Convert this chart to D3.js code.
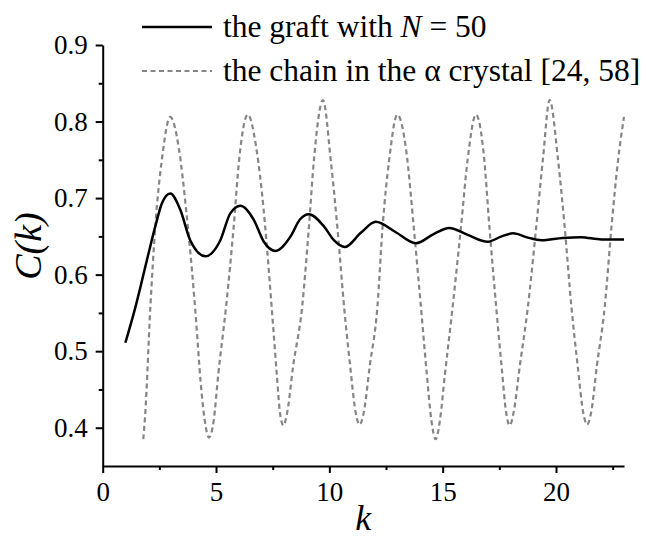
<!DOCTYPE html>
<html>
<head>
    <meta charset="utf-8">
    <title>C(k)</title>
    <script src="https://d3js.org/d3.v7.min.js"></script>
    <style>
        body { margin: 0; background: #fff; }
        svg text { font-family: "Liberation Serif", "Times New Roman", serif; fill: #000; }
    </style>
</head>
<body>
    <svg id="chart" width="646" height="538"></svg>
    <script>
        // the graft with N = 50
        var graftK = [1.00, 1.43, 2.00, 2.32, 2.61, 2.98, 3.42, 3.86, 4.53, 5.19, 5.63, 6.08, 6.66, 7.11, 7.62,
            8.29, 8.70, 9.10, 9.76, 10.20, 10.68, 11.40, 12.05, 12.90, 13.82, 14.60, 15.29, 16.10, 16.99,
            17.60, 18.10, 18.80, 19.35, 20.30, 21.10, 22.00, 23.00];
        var graftC = [0.511, 0.556, 0.625, 0.663, 0.693, 0.706, 0.685, 0.645, 0.624, 0.645, 0.680, 0.690, 0.672, 0.643, 0.631,
            0.650, 0.672, 0.679, 0.663, 0.645, 0.636, 0.655, 0.669, 0.656, 0.641, 0.653, 0.661, 0.652, 0.643,
            0.650, 0.654, 0.648, 0.645, 0.648, 0.649, 0.646, 0.646];

        // the chain in the alpha crystal
        var chainK = [1.79, 1.87, 2.10, 2.32, 2.61, 2.98, 3.36, 3.68, 3.94, 4.12, 4.32, 4.50, 4.69,
            4.90, 5.10, 5.45, 5.78, 6.02, 6.40, 6.78, 7.10, 7.33, 7.50, 7.68, 7.82, 7.97,
            8.14, 8.40, 8.80, 9.10, 9.32, 9.72, 10.06, 10.35, 10.65, 10.92, 11.16, 11.33,
            11.52, 11.78, 12.12, 12.35, 12.64, 13.00, 13.40, 13.72, 14.04, 14.30, 14.50, 14.69,
            14.88, 15.10, 15.44, 15.81, 16.10, 16.47, 16.82, 17.06, 17.36, 17.60, 17.80, 17.96,
            18.13, 18.40, 18.76, 19.13, 19.42, 19.72, 20.09, 20.38, 20.68, 20.96, 21.20, 21.37,
            21.55, 21.80, 22.15, 22.45, 22.74, 23.00];
        var chainC = [0.385, 0.415, 0.556, 0.663, 0.750, 0.806, 0.765, 0.685, 0.605, 0.540, 0.460, 0.410, 0.387,
            0.410, 0.470, 0.560, 0.663, 0.750, 0.809, 0.765, 0.685, 0.605, 0.540, 0.470, 0.420, 0.403,
            0.420, 0.480, 0.558, 0.663, 0.750, 0.828, 0.750, 0.663, 0.558, 0.480, 0.420, 0.404,
            0.420, 0.480, 0.558, 0.663, 0.750, 0.809, 0.760, 0.663, 0.558, 0.470, 0.410, 0.385,
            0.410, 0.470, 0.558, 0.663, 0.750, 0.809, 0.755, 0.663, 0.558, 0.480, 0.420, 0.403,
            0.420, 0.480, 0.558, 0.663, 0.750, 0.828, 0.750, 0.663, 0.558, 0.480, 0.420, 0.404,
            0.420, 0.480, 0.558, 0.663, 0.750, 0.806];

        var xTicks = [0, 5, 10, 15, 20];
        var xMinor = [2.5, 7.5, 12.5, 17.5, 22.5];
        var yTicks = [0.4, 0.5, 0.6, 0.7, 0.8, 0.9];
        var yMinor = [0.45, 0.55, 0.65, 0.75, 0.85];

        var serif = "Liberation Serif, Times New Roman, serif";
        var svg = d3.select("#chart");

        var x = d3.scaleLinear().domain([0, 23]).range([102.7, 624]);
        var y = d3.scaleLinear().domain([0.35, 0.9]).range([466, 45]);

        // axes
        var xAxis = d3.axisBottom(x).tickValues(xTicks).tickSize(7).tickSizeOuter(0).tickPadding(9)
            .tickFormat(d3.format("d"));
        var gx = svg.append("g").attr("transform", "translate(0," + y(0.35) + ")").call(xAxis);
        var gxm = svg.append("g").attr("transform", "translate(0," + y(0.35) + ")")
            .call(d3.axisBottom(x).tickValues(xMinor).tickSize(4).tickSizeOuter(0).tickFormat(""));

        var yAxis = d3.axisLeft(y).tickValues(yTicks).tickSize(7).tickSizeOuter(0).tickPadding(8)
            .tickFormat(d3.format(".1f"));
        var gy = svg.append("g").attr("transform", "translate(" + x(0) + ",0)").call(yAxis);
        var gym = svg.append("g").attr("transform", "translate(" + x(0) + ",0)")
            .call(d3.axisLeft(y).tickValues(yMinor).tickSize(4).tickSizeOuter(0).tickFormat(""));

        svg.selectAll("g").attr("font-family", serif);
        svg.selectAll(".domain, .tick line").attr("stroke", "#000").attr("stroke-width", 2);
        svg.selectAll(".tick text").attr("font-size", 27).style("font-family", serif);
        gxm.select(".domain").remove();
        gym.select(".domain").remove();

        // curves
        var line = d3.line()
            .x(function (d) { return x(d[0]); })
            .y(function (d) { return y(d[1]); })
            .curve(d3.curveMonotoneX);

        svg.append("path")
            .datum(d3.zip(chainK, chainC))
            .attr("fill", "none")
            .attr("stroke", "#858585")
            .attr("stroke-width", 2.2)
            .attr("stroke-dasharray", "5,3.5")
            .attr("d", line);

        svg.append("path")
            .datum(d3.zip(graftK, graftC))
            .attr("fill", "none")
            .attr("stroke", "#000")
            .attr("stroke-width", 2.5)
            .attr("d", line);

        // axis titles
        svg.append("text")
            .attr("transform", "translate(41,246) rotate(-90)")
            .attr("text-anchor", "middle")
            .attr("font-size", 38)
            .attr("font-style", "italic")
            .style("font-family", serif)
            .text("C(k)");

        svg.append("text")
            .attr("x", (x(0) + x(23)) / 2)
            .attr("y", 530)
            .attr("text-anchor", "middle")
            .attr("font-size", 36)
            .attr("font-style", "italic")
            .style("font-family", serif)
            .text("k");

        // legend
        var legend = svg.append("g");
        legend.append("line").attr("x1", 142).attr("x2", 212).attr("y1", 27).attr("y2", 27)
            .attr("stroke", "#000").attr("stroke-width", 2.5);
        var t1 = legend.append("text").attr("x", 223).attr("y", 37).attr("font-size", 31.5)
            .style("font-family", serif);
        t1.append("tspan").text("the graft with ");
        t1.append("tspan").attr("font-style", "italic").text("N");
        t1.append("tspan").text(" = 50");

        legend.append("line").attr("x1", 142).attr("x2", 212).attr("y1", 71).attr("y2", 71)
            .attr("stroke", "#858585").attr("stroke-width", 2.2).attr("stroke-dasharray", "5,3.5");
        legend.append("text").attr("x", 223).attr("y", 81).attr("font-size", 31.5)
            .style("font-family", serif)
            .text("the chain in the \u03b1 crystal [24, 58]");
    </script>
</body>
</html>
